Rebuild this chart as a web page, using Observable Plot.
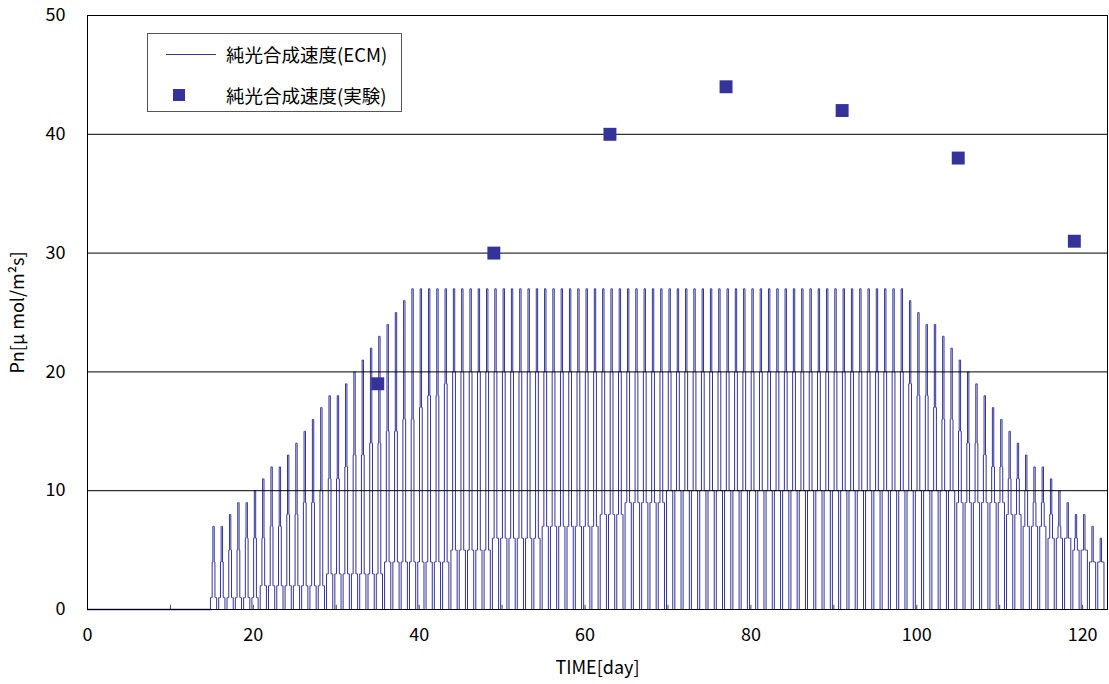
<!DOCTYPE html>
<html><head><meta charset="utf-8">
<script src="https://cdn.jsdelivr.net/npm/d3@7"></script>
<script src="https://cdn.jsdelivr.net/npm/@observablehq/plot@0.6"></script>
<style>
html,body{margin:0;padding:0;background:#fff;}
#wrap{position:relative;width:1109px;height:684px;font-family:"Noto Sans CJK JP","Noto Sans",sans-serif;}
#legend{position:absolute;left:147px;top:33px;width:255px;height:79px;border:1px solid #555;background:#fff;box-sizing:border-box;}
.lg-line{position:absolute;left:18px;top:20px;width:50px;height:0;border-top:1px solid #333399;}
.lg-sq{position:absolute;left:25px;top:55px;width:12px;height:12px;background:#333399;}
.lg-text{position:absolute;left:78px;font-size:18.5px;line-height:22px;color:#000;white-space:nowrap;}
</style></head>
<body>
<div id="wrap"><div id="chart"></div>
<div id="legend">
  <div class="lg-line"></div><div class="lg-text" style="top:9px">純光合成速度(ECM)</div>
  <div class="lg-sq"></div><div class="lg-text" style="top:50px">純光合成速度(実験)</div>
</div></div>
<script>
// ECM simulated net photosynthesis: daily step levels, days 15..122
const firstDay = 15;
const peakLevel = [7,7,8,9,9,10,11,12,12,13,14,15,16,17,18,18,19,20,21,22,23,24,25,26,
  27,27,27,27,27,27,27,27,27,27,27,27,27,27,27,27,27,27,27,27,27,27,27,27,27,27,27,27,27,27,
  27,27,27,27,27,27,27,27,27,27,27,27,27,27,27,27,27,27,27,27,27,27,27,27,27,27,27,27,27,27,
  26,25,24,24,23,22,21,20,19,18,17,16,15,14,13,12,12,11,10,9,8,8,7,6];
const midLevel = [4,4,5,5,6,6,6,7,7,8,8,9,9,10,11,11,12,13,13,14,14,15,15,16,
  16,17,18,18,19,20,20,20,20,20,20,20,20,20,20,20,20,20,20,20,20,20,20,20,20,20,20,20,20,20,
  20,20,20,20,20,20,20,20,20,20,20,20,20,20,20,20,20,20,20,20,20,20,20,20,20,20,20,20,20,20,
  19,18,18,17,16,16,15,14,14,13,12,12,11,11,10,9,9,8,7,6,6,5,4,4];
const lowLevel = [1,1,1,1,1,1,2,2,2,2,2,2,2,2,3,3,3,3,3,3,3,4,4,4,
  4,4,4,4,4,5,5,5,5,5,6,6,6,6,6,6,7,7,7,7,7,7,7,8,8,8,9,9,9,9,9,10,10,10,10,10,
  10,10,10,10,10,10,10,10,10,10,10,10,10,10,10,10,10,10,10,10,10,10,10,10,10,10,10,10,10,10,
  9,9,9,9,9,9,8,8,7,7,7,6,6,6,5,5,4,4,4,3,3,3,2,2];
// hourly shape of one day (starting 0.3 day before the day mark)
const dayProfile = ["0","0","0","L","L","L","L","L","M","M","P","P","P","P","M","M","L","L","L","L","L","0","0","0"];
const profileStart = -0.3;

// experiment
const expDays = [35,49,63,77,91,105,119];
const expValues = [19,30,40,44,42,38,31];

const xTicks = [0,20,40,60,80,100,120];
const xMarks = [0,10,20,30,40,50,60,70,80,90,100,110,120];
const yTicks = [0,10,20,30,40,50];
const gridY = [10,20,30,40];

const ecm = [{t: 0, v: 0}];
peakLevel.forEach((p, i) => {
  const d = firstDay + i;
  const lv = {"0": 0, L: lowLevel[i], M: midLevel[i], P: p};
  dayProfile.forEach((key, k) => ecm.push({t: d + profileStart + k / dayProfile.length, v: lv[key]}));
});
ecm.push({t: 123, v: 0});
const exp = expDays.map((d, i) => ({day: d, value: expValues[i]}));

const chart = Plot.plot({
  width: 1109, height: 684,
  marginLeft: 87, marginRight: 2, marginTop: 15, marginBottom: 75,
  style: {fontFamily: '"Noto Sans CJK JP","Noto Sans",sans-serif', fontSize: "18px", background: "#fff", color: "#000"},
  x: {domain: [0, 123]},
  y: {domain: [0, 50]},
  marks: [
    Plot.line(ecm, {x: "t", y: "v", curve: "step-after", stroke: "#333399", strokeWidth: 1}),
    Plot.ruleY(gridY, {stroke: "#000", strokeWidth: 1}),
    Plot.ruleX(xMarks, {x: d => d, y1: 0, y2: 0.35, stroke: "#444"}),
    Plot.ruleY([0], {x1: 0, x2: 15, stroke: "#333399", strokeWidth: 1.5}),
    Plot.dot(exp, {x: "day", y: "value", symbol: "square", r: 7.3, fill: "#333399", stroke: null}),
    Plot.frame({stroke: "#000"}),
    Plot.axisX({ticks: xTicks, tickSize: 0, tickPadding: 19, label: "TIME[day]", labelAnchor: "center", labelOffset: 64, labelArrow: "none"}),
    Plot.axisY({ticks: yTicks, tickSize: 0, tickPadding: 22, label: "Pn[μ mol/m²s]", labelAnchor: "center", labelOffset: 76, labelArrow: "none"})
  ]
});
document.getElementById("chart").append(chart);
</script>
</body></html>
